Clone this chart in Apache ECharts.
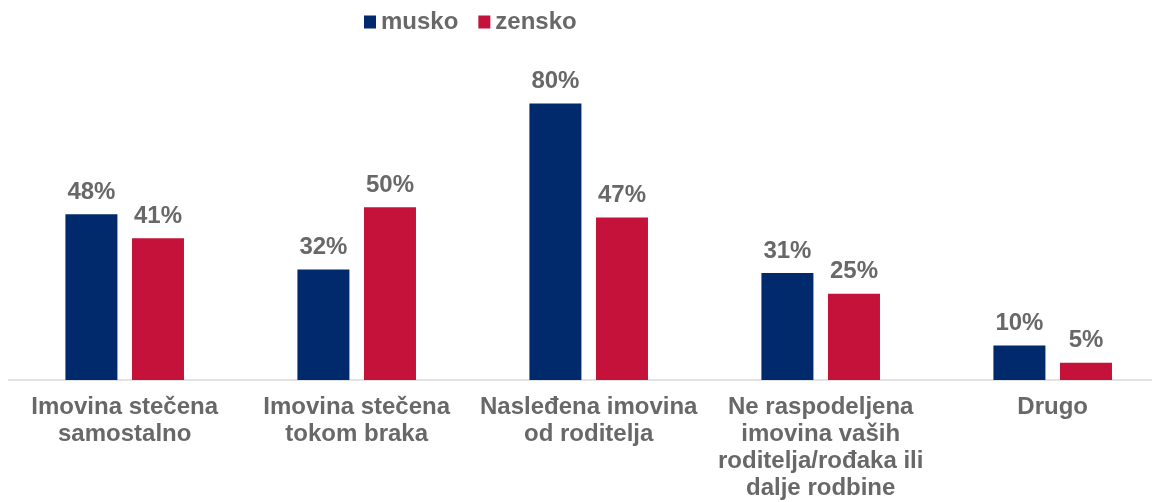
<!DOCTYPE html>
<html lang="sr">

<head>
    <meta charset="UTF-8" />
    <title>Imovina</title>
    <script src="https://cdn.jsdelivr.net/npm/echarts@6/dist/echarts.min.js"></script>
    <style>
        html, body { margin: 0; padding: 0; background: #fff; overflow: hidden; }
    </style>
</head>

<body>
    <!-- chart is wider than the window: the right edge of the plot is cut off in the original -->
    <div id="bar" style="width:1180px;height:502px;"></div>
    <script type="text/javascript">
        var categories = [
            'Imovina stečena\nsamostalno',
            'Imovina stečena\ntokom braka',
            'Nasleđena imovina\nod roditelja',
            'Ne raspodeljena\nimovina vaših\nroditelja/rođaka ili\ndalje rodbine',
            'Drugo'
        ];
        var seriesNames = ['musko', 'zensko'];
        var musko = [48, 32, 80, 31, 10];
        var zensko = [41, 50, 47, 25, 5];

        var font = 'Arial, "Liberation Sans", sans-serif';
        var gray = '#686868';

        var chart = echarts.init(document.getElementById('bar'));

        var labelStyle = {
            show: true,
            position: 'top',
            distance: 10,
            formatter: '{c}%',
            color: gray,
            fontFamily: font,
            fontWeight: 'bold',
            fontSize: 24
        };

        var option = {
            animation: false,
            color: ['#002A6C', '#C4123A'],
            legend: {
                data: seriesNames,
                left: 359,
                top: 5,
                icon: 'rect',
                itemWidth: 12,
                itemHeight: 13,
                itemGap: 20,
                textStyle: {
                    color: gray,
                    fontFamily: font,
                    fontWeight: 'bold',
                    fontSize: 24
                }
            },
            grid: {
                left: 8.7,
                width: 1160,
                top: 34.5,
                bottom: 121.5
            },
            xAxis: {
                type: 'category',
                data: categories,
                axisTick: { show: false },
                axisLine: { lineStyle: { color: '#D9D9D9', width: 1.5 } },
                axisLabel: {
                    interval: 0,
                    margin: 14,
                    color: gray,
                    fontFamily: font,
                    fontWeight: 'bold',
                    fontSize: 24,
                    lineHeight: 27
                }
            },
            yAxis: {
                type: 'value',
                min: 0,
                max: 100,
                show: false,
                splitLine: { show: false }
            },
            series: [{
                name: seriesNames[0],
                type: 'bar',
                data: musko,
                barWidth: 52,
                barGap: '28%',
                label: labelStyle
            }, {
                name: seriesNames[1],
                type: 'bar',
                data: zensko,
                barWidth: 52,
                barGap: '28%',
                label: labelStyle
            }]
        };

        chart.setOption(option, true);
    </script>
</body>

</html>
